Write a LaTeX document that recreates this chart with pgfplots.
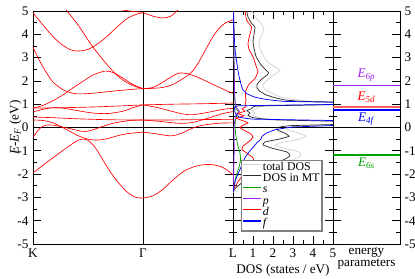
\documentclass[border=0pt]{standalone}
\usepackage{fontspec}
\setmainfont{Liberation Serif}
\usepackage{pgfplots}
\pgfplotsset{compat=1.18}
\definecolor{dgreen}{RGB}{0,160,0}
\definecolor{pviolet}{RGB}{160,32,240}
\definecolor{lgray}{RGB}{210,210,210}
\definecolor{dgray}{RGB}{45,45,45}
\definecolor{pinkred}{RGB}{255,100,100}
\pgfplotsset{
  every axis/.append style={scale only axis, height=177.1pt, ymin=-5, ymax=5,
    ytick={-5,...,5}, minor y tick num=1, tick align=inside,
    major tick length=6pt, minor tick length=3pt,
    tick style={black, line width=0.5pt}, axis line style={black, line width=0.6pt},
    /pgf/number format/assume math mode=true, anchor=south west},
  band/.style={red, line width=0.5pt, smooth, tension=0.5},
  dos/.style={line width=0.55pt, smooth, tension=0.2, forget plot},
  mylegimg/.style={legend image code/.code={\draw[##1] (0cm,2.3pt) -- (0.48cm,2.3pt);}},
}
\begin{document}
\begin{tikzpicture}
\useasboundingbox (-25.08pt,-25.84pt) rectangle (290.32pt,185.44pt);
% ---------------- band structure ----------------
\begin{axis}[at={(0pt,0pt)}, width=152pt, xmin=0, xmax=2,
  xtick={0,1.1,2}, xticklabels={K,Γ,L}, yticklabel pos=left,
  ylabel={\textit{E}-\textit{E}\textsubscript{\textit{F}} (eV)}, ylabel style={yshift=-10pt}]
\addplot[black, line width=0.5pt] coordinates {(1.1,-5) (1.1,5)};
\addplot[black, line width=0.5pt] coordinates {(0,0) (2,0)};
% K - Gamma
\addplot[band] coordinates {(0,-1.95) (0.1,-1.62) (0.2,-1.3) (0.3,-0.98) (0.4,-0.68) (0.46,-0.53) (0.5,-0.5) (0.55,-0.55) (0.62,-0.85) (0.7,-1.4) (0.78,-1.95) (0.86,-2.4) (0.95,-2.8) (1.03,-3.0) (1.1,-3.03)};
\addplot[band] coordinates {(0,-0.42) (0.04,-0.18) (0.08,0.0) (0.13,0.1) (0.2,0.1) (0.3,0.02) (0.4,-0.08) (0.47,-0.15) (0.53,-0.17) (0.6,-0.1) (0.7,0.05) (0.8,0.18) (0.9,0.26) (1.0,0.31) (1.1,0.32)};
\addplot[band] coordinates {(0,0.32) (0.1,0.3) (0.2,0.2) (0.34,-0.1) (0.45,-0.35) (0.55,-0.5) (0.65,-0.54) (0.75,-0.47) (0.85,-0.35) (0.95,-0.26) (1.1,-0.2)};
\addplot[band] coordinates {(0,0.45) (0.2,0.42) (0.4,0.38) (0.6,0.35) (0.8,0.33) (1.1,0.32)};
\addplot[band] coordinates {(0,0.67) (0.1,0.78) (0.2,0.85) (0.3,0.83) (0.45,0.72) (0.6,0.62) (0.75,0.6) (0.9,0.7) (1.0,0.85) (1.1,0.97)};
\addplot[band] coordinates {(0,0.83) (0.3,0.85) (0.6,0.88) (0.9,0.93) (1.1,0.97)};
\addplot[band] coordinates {(0,0.83) (0.1,0.95) (0.2,1.15) (0.3,1.4) (0.4,1.7) (0.5,1.98) (0.6,2.25) (0.72,2.42) (0.8,2.36) (0.9,2.12) (1.0,1.84) (1.1,1.67)};
\addplot[band] coordinates {(0,3.45) (0.05,3.0) (0.1,2.6) (0.15,2.25) (0.2,1.95) (0.3,1.62) (0.4,1.47) (0.47,1.44) (0.6,1.47) (0.8,1.56) (1.0,1.64) (1.1,1.67)};
\addplot[band] coordinates {(0,4.92) (0.1,4.4) (0.2,3.9) (0.3,3.52) (0.38,3.33) (0.45,3.28) (0.55,3.35) (0.65,3.6) (0.75,3.95) (0.85,4.35) (0.95,4.7) (1.05,4.88) (1.1,4.92)};
\addplot[band] coordinates {(0.33,5.05) (0.45,4.4) (0.6,3.45) (0.75,2.65) (0.85,2.2) (0.95,1.9) (1.05,1.72) (1.1,1.67)};
\addplot[band] coordinates {(0.88,5.05) (1.0,4.98) (1.1,4.95)};
% Gamma - L
\addplot[band] coordinates {(1.1,-3.03) (1.2,-2.93) (1.3,-2.65) (1.4,-2.25) (1.5,-1.9) (1.6,-1.7) (1.7,-1.6) (1.8,-1.6) (1.9,-1.72) (2.0,-2.02)};
\addplot[band] coordinates {(1.1,-0.2) (1.2,-0.25) (1.3,-0.32) (1.38,-0.36) (1.45,-0.3) (1.52,-0.18) (1.6,-0.02) (1.7,0.1) (1.85,0.18) (2.0,0.2)};
\addplot[band] coordinates {(1.1,0.32) (1.3,0.32) (1.5,0.33) (1.7,0.34) (2.0,0.35)};
\addplot[band] coordinates {(1.1,0.32) (1.25,0.27) (1.4,0.2) (1.5,0.18) (1.6,0.22) (1.75,0.4) (1.9,0.6) (2.0,0.68)};
\addplot[band] coordinates {(1.1,0.97) (1.25,0.85) (1.4,0.68) (1.5,0.58) (1.6,0.55) (1.75,0.65) (1.9,0.78) (2.0,0.82)};
\addplot[band] coordinates {(1.1,0.97) (1.4,1.0) (1.7,1.02) (2.0,1.05)};
\addplot[band] coordinates {(1.1,1.67) (1.2,1.72) (1.3,1.95) (1.4,2.22) (1.47,2.34) (1.55,2.3) (1.65,2.15) (1.75,1.95) (1.85,1.75) (1.95,1.55) (2.0,1.47)};
\addplot[band] coordinates {(1.1,1.67) (1.2,1.68) (1.3,1.72) (1.4,1.85) (1.5,2.1) (1.58,2.35) (1.65,2.75) (1.74,3.45) (1.8,3.9) (1.87,4.3) (1.93,4.5) (2.0,4.62)};
\addplot[band] coordinates {(1.1,4.93) (1.2,4.78) (1.3,4.7) (1.38,4.78) (1.45,5.05)};
\end{axis}
% ---------------- DOS ----------------
\begin{axis}[at={(152pt,0pt)}, width=76pt, xmin=0, xmax=5,
  xtick={0,...,5}, xticklabels={,1,2,3,4,5}, minor x tick num=1, yticklabels={},
  xlabel={DOS (states / eV)}, xlabel style={yshift=2pt},
  legend cell align=left, mylegimg,
  legend style={at={(0.08,0.361)}, anchor=north west, draw=gray, line width=0.9pt,
    font=\fontsize{9}{10}\selectfont, row sep=0pt, inner sep=1pt,
    nodes={inner sep=0.8pt, text height=5.6pt, text depth=1.4pt}}]
\addplot[forget plot, black, line width=0.5pt] coordinates {(0,0) (5,0)};
\addplot[dos, lgray] coordinates {(0,-2.8) (0.15,-2.6) (0.45,-2.4) (0.9,-2.2) (1.35,-2.0) (1.8,-1.8) (2.4,-1.6) (3.0,-1.4) (3.4,-1.2) (3.3,-1.05) (2.6,-0.9) (2.1,-0.78) (2.4,-0.65) (3.3,-0.5) (3.65,-0.38) (3.3,-0.25) (2.8,-0.12) (2.7,0.0) (3.5,0.08) (6,0.15) (6,0.25) (2.5,0.33) (1.3,0.42) (1.0,0.52) (1.1,0.62) (0.95,0.72) (1.2,0.82) (1.5,0.92) (6,1.0) (6,1.07) (4.0,1.12) (3.0,1.2) (2.4,1.3) (2.0,1.45) (1.65,1.6) (1.5,1.75) (1.55,1.9) (1.8,2.1) (2.2,2.35) (2.35,2.45) (2.1,2.6) (1.75,2.8) (1.5,3.1) (1.35,3.4) (1.3,3.7) (1.45,4.0) (1.55,4.25) (1.35,4.5) (1.1,4.75) (0.95,5.0)};
\addplot[dos, dgray] coordinates {(0,-2.75) (0.12,-2.6) (0.4,-2.4) (0.75,-2.2) (1.1,-2.0) (1.45,-1.8) (1.95,-1.6) (2.5,-1.4) (2.85,-1.22) (2.7,-1.05) (2.0,-0.9) (1.5,-0.75) (1.6,-0.62) (2.3,-0.5) (2.8,-0.38) (2.6,-0.25) (2.25,-0.12) (2.2,0.0) (2.9,0.08) (6,0.15) (6,0.25) (2.0,0.33) (1.0,0.42) (0.75,0.52) (0.85,0.62) (0.7,0.72) (0.95,0.82) (1.2,0.92) (6,1.0) (6,1.07) (3.5,1.12) (2.6,1.18) (2.0,1.3) (1.6,1.42) (1.35,1.55) (1.2,1.7) (1.2,1.85) (1.4,2.05) (1.7,2.25) (1.78,2.35) (1.6,2.5) (1.35,2.75) (1.15,3.05) (1.05,3.4) (1.0,3.7) (1.05,4.0) (1.1,4.3) (0.9,4.5) (0.75,4.75) (0.68,5.0)};
\addplot[dos, dgreen] coordinates {(0,-2.8) (0.05,-2.5) (0.15,-2.1) (0.3,-1.7) (0.38,-1.4) (0.35,-1.1) (0.25,-0.8) (0.15,-0.4) (0.1,0.0) (0.12,0.3) (0.2,0.55) (0.28,0.68) (0.15,0.8) (0.1,1.0) (0.08,1.5) (0.06,2.5) (0.05,3.5) (0.04,5.0)};
\addplot[dos, pviolet] coordinates {(0,-2.8) (0.03,-2.0) (0.06,-1.0) (0.05,0.0) (0.1,0.35) (0.15,0.55) (0.32,0.7) (0.2,0.82) (0.12,1.0) (0.08,1.5) (0.05,3.0) (0.03,5.0)};
\addplot[dos, red] coordinates {(0,-2.75) (0.05,-2.6) (0.2,-2.4) (0.4,-2.15) (0.65,-1.9) (0.9,-1.7) (1.05,-1.5) (1.0,-1.3) (0.7,-1.1) (0.45,-0.95) (0.5,-0.8) (0.8,-0.6) (1.0,-0.42) (0.9,-0.28) (0.55,-0.12) (0.35,0.0) (0.5,0.1) (0.75,0.2) (0.4,0.32) (0.15,0.4) (0.55,0.5) (0.25,0.6) (0.6,0.7) (0.45,0.8) (0.65,0.9) (0.6,1.0) (0.65,1.15) (0.62,1.35) (0.63,1.54) (0.77,1.82) (1.1,2.1) (1.25,2.4) (1.15,2.65) (1.02,3.0) (0.8,3.35) (0.75,3.6) (0.8,3.85) (0.93,4.3) (0.68,4.6) (0.6,5.0)};
\addplot[dos, blue] coordinates {(0,-2.8) (0.05,-2.5) (0.15,-2.2) (0.3,-1.9) (0.45,-1.6) (0.6,-1.3) (0.8,-1.05) (1.0,-0.85) (1.2,-0.65) (1.4,-0.5) (1.45,-0.38) (1.65,-0.25) (2.1,-0.1) (3.0,0.02) (6,0.12) (6,0.28) (1.0,0.36) (0.3,0.45) (0.12,0.6) (0.08,0.8) (0.3,0.93) (6,1.0) (6,1.07) (2.6,1.12) (1.7,1.2) (1.1,1.3) (0.7,1.45) (0.5,1.6) (0.42,1.8) (0.3,2.2) (0.22,2.6) (0.12,3.2) (0.07,3.8) (0.03,4.5) (0.0,5.0)};
\addlegendimage{lgray, line width=0.8pt}
\addlegendentry{total DOS}
\addlegendimage{dgray, line width=0.8pt}
\addlegendentry{DOS in MT}
\addlegendimage{dgreen, line width=0.8pt}
\addlegendentry{\textit{s}}
\addlegendimage{pviolet, line width=0.8pt}
\addlegendentry{\textit{p}}
\addlegendimage{red, line width=0.8pt}
\addlegendentry{\textit{d}}
\addlegendimage{blue, line width=0.8pt}
\addlegendentry{\textit{f}}
\end{axis}
% ---------------- energy parameters ----------------
\begin{axis}[at={(228pt,0pt)}, width=50.92pt, xmin=0, xmax=1, xtick=\empty,
  yticklabel pos=right,
  xlabel={energy\\[-2.5pt]parameters}, xlabel style={align=center, yshift=1pt}]
\addplot[black, line width=0.5pt] coordinates {(0,0) (1,0)};
\addplot[pviolet, line width=0.8pt] coordinates {(0,1.82) (1,1.82)};
\addplot[pinkred, line width=1.2pt] coordinates {(0,0.89) (1,0.89)};
\addplot[blue, line width=0.8pt] coordinates {(0,0.75) (1,0.75)};
\addplot[dgreen, line width=0.8pt] coordinates {(0,-1.18) (1,-1.18)};
\node[pviolet, anchor=south, inner sep=1.5pt] at (axis cs:0.5,1.86) {\textit{E}\textsubscript{\textit{6p}}};
\node[red, anchor=south, inner sep=1.5pt] at (axis cs:0.5,0.98) {\textit{E}\textsubscript{\textit{5d}}};
\node[blue, anchor=north, inner sep=1.5pt] at (axis cs:0.5,0.72) {\textit{E}\textsubscript{\textit{4f}}};
\node[dgreen, anchor=north, inner sep=1.5pt] at (axis cs:0.5,-1.22) {\textit{E}\textsubscript{\textit{6s}}};
\end{axis}
\end{tikzpicture}
\end{document}
